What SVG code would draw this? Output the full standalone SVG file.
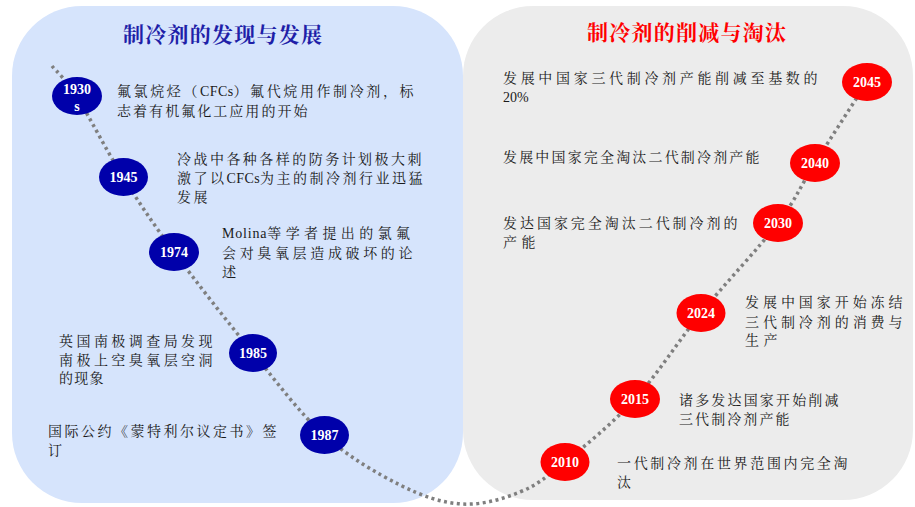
<svg xmlns="http://www.w3.org/2000/svg" width="915" height="507" viewBox="0 0 915 507">
<style>
.t{font-family:"Liberation Serif","Noto Serif CJK SC","Noto Sans CJK SC",serif;font-size:14px;fill:#1a1a1a;letter-spacing:2.5px}
.ttl{font-family:"Liberation Serif","Noto Serif CJK SC","Noto Sans CJK SC",serif;font-size:21px;font-weight:bold}
.yr{font-family:"Liberation Serif",serif;font-size:14px;font-weight:bold;fill:#ffffff;text-anchor:middle}
.lat{letter-spacing:0.4px}
.b{fill:#0000aa}
.r{fill:#ff0000}
</style>
<rect x="12" y="6" width="451" height="497" rx="70" ry="70" fill="#d6e4fc"/>
<rect x="463" y="6" width="450" height="494" rx="70" ry="70" fill="#ececec"/>
<text class="ttl" x="123" y="42" fill="#1f1fa8" textLength="199" lengthAdjust="spacing">制冷剂的发现与发展</text>
<text class="ttl" x="587" y="40" fill="#ff0000" textLength="199" lengthAdjust="spacing">制冷剂的削减与淘汰</text>
<g id="connectors">
<path d="M52,66 C56.2,71.2 65.2,78.5 77,97 C88.8,115.5 106.8,151.2 123,177 C139.2,202.8 152.3,222.7 174,252 C195.7,281.3 228,322.5 253,353 C278,383.5 299.5,413 324,435 C348.5,457 377,473.5 400,485 C423,496.5 442,502.8 462,504 C482,505.2 502.8,499 520,492 C537.2,485 545.8,477.5 565,462 C584.2,446.5 612.3,423.8 635,399 C657.7,374.2 677.2,342.3 701,313 C724.8,283.7 759,248 778,223 C797,198 800.2,186.5 815,163 C829.8,139.5 858.3,95.5 867,82" fill="none" stroke="#7f7f7f" stroke-width="3.5" stroke-dasharray="3 3.5"/>
</g>
<g id="n1930">
<ellipse class="b" cx="77" cy="96" rx="25" ry="19"/>
<text class="yr" x="77" y="94">1930</text>
<text class="yr" x="77" y="111">s</text>
<text class="t" x="117" y="96" style="letter-spacing:2.6px">氟氯烷烃（<tspan class="lat">CFCs</tspan>）氟代烷用作制冷剂，标</text>
<text class="t" x="117" y="116" textLength="193" lengthAdjust="spacing">志着有机氟化工应用的开始</text>
</g>
<g id="n1945">
<ellipse class="b" cx="123.5" cy="177" rx="24.5" ry="19"/>
<text class="yr" x="123.5" y="182">1945</text>
<text class="t" x="177" y="164" textLength="247" lengthAdjust="spacing">冷战中各种各样的防务计划极大刺</text>
<text class="t" x="177" y="183" style="letter-spacing:2.5px">激了以<tspan class="lat">CFCs</tspan>为主的制冷剂行业迅猛</text>
<text class="t" x="177" y="202">发展</text>
</g>
<g id="n1974">
<ellipse class="b" cx="174" cy="252" rx="25" ry="19"/>
<text class="yr" x="174" y="257">1974</text>
<text class="t" x="222" y="238" style="letter-spacing:4.4px"><tspan style="letter-spacing:0.8px">Molina</tspan>等学者提出的氯氟</text>
<text class="t" x="222" y="258" textLength="193" lengthAdjust="spacing">会对臭氧层造成破坏的论</text>
<text class="t" x="222" y="277">述</text>
</g>
<g id="n1985">
<ellipse class="b" cx="253" cy="353" rx="24" ry="19"/>
<text class="yr" x="253" y="358">1985</text>
<text class="t" x="59" y="346" textLength="156" lengthAdjust="spacing">英国南极调查局发现</text>
<text class="t" x="59" y="365" textLength="156" lengthAdjust="spacing">南极上空臭氧层空洞</text>
<text class="t" x="59" y="383" textLength="47" lengthAdjust="spacing">的现象</text>
</g>
<g id="n1987">
<ellipse class="b" cx="324.5" cy="435" rx="24.5" ry="19"/>
<text class="yr" x="324.5" y="440">1987</text>
<text class="t" x="48" y="436" textLength="231" lengthAdjust="spacing">国际公约《蒙特利尔议定书》签</text>
<text class="t" x="48" y="455">订</text>
</g>
<g id="n2010">
<ellipse class="r" cx="565" cy="462" rx="24.5" ry="19"/>
<text class="yr" x="565" y="467">2010</text>
<text class="t" x="617" y="468" textLength="233" lengthAdjust="spacing">一代制冷剂在世界范围内完全淘</text>
<text class="t" x="617" y="487">汰</text>
</g>
<g id="n2015">
<ellipse class="r" cx="635" cy="399" rx="25" ry="19"/>
<text class="yr" x="635" y="404">2015</text>
<text class="t" x="679" y="405" textLength="162" lengthAdjust="spacing">诸多发达国家开始削减</text>
<text class="t" x="679" y="424" textLength="113" lengthAdjust="spacing">三代制冷剂产能</text>
</g>
<g id="n2024">
<ellipse class="r" cx="701" cy="313" rx="24.5" ry="19"/>
<text class="yr" x="701" y="318">2024</text>
<text class="t" x="745" y="307" textLength="160" lengthAdjust="spacing">发展中国家开始冻结</text>
<text class="t" x="745" y="327" textLength="160" lengthAdjust="spacing">三代制冷剂的消费与</text>
<text class="t" x="745" y="345" textLength="35" lengthAdjust="spacing">生产</text>
</g>
<g id="n2030">
<ellipse class="r" cx="778" cy="223" rx="25" ry="19"/>
<text class="yr" x="778" y="228">2030</text>
<text class="t" x="503" y="228" textLength="237" lengthAdjust="spacing">发达国家完全淘汰二代制冷剂的</text>
<text class="t" x="503" y="247" textLength="35" lengthAdjust="spacing">产能</text>
</g>
<g id="n2040">
<ellipse class="r" cx="815" cy="163" rx="25" ry="19"/>
<text class="yr" x="815" y="168">2040</text>
<text class="t" x="503" y="162" textLength="259" lengthAdjust="spacing">发展中国家完全淘汰二代制冷剂产能</text>
</g>
<g id="n2045">
<ellipse class="r" cx="867" cy="82" rx="25" ry="19"/>
<text class="yr" x="867" y="87">2045</text>
<text class="t" x="503" y="83" textLength="317" lengthAdjust="spacing">发展中国家三代制冷剂产能削减至基数的</text>
<text class="t" x="503" y="102" style="letter-spacing:0">20%</text>
</g>
</svg>
